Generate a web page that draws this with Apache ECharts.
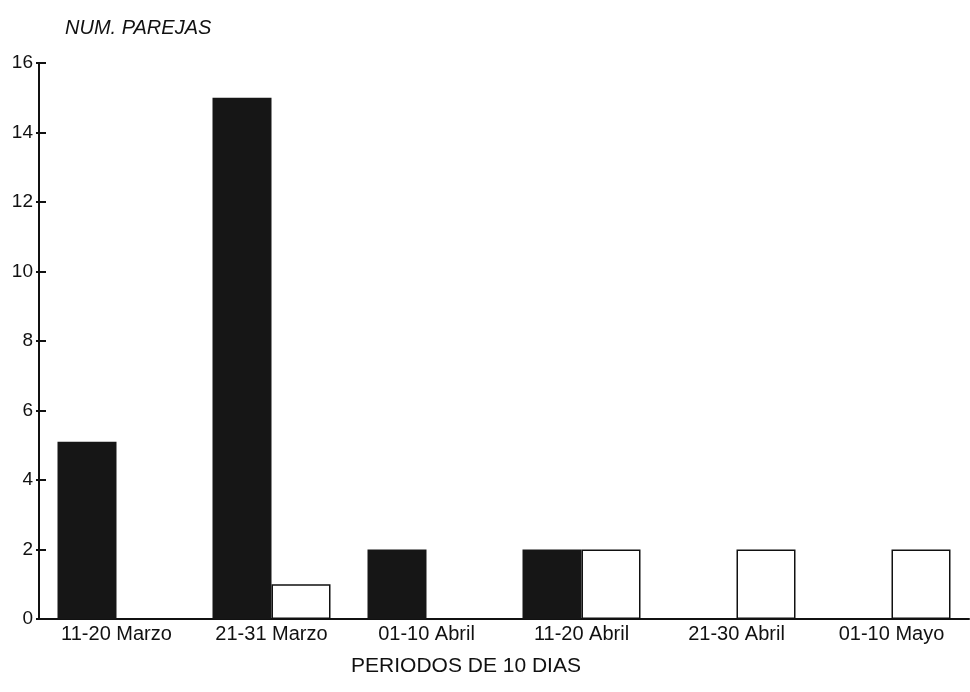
<!DOCTYPE html>
<html>
<head>
<meta charset="utf-8">
<script src="https://cdn.jsdelivr.net/npm/echarts@6/dist/echarts.min.js"></script>
<style>
html,body{margin:0;padding:0;background:#fff;}
#chart{width:970px;height:692px;}
</style>
</head>
<body>
<div id="chart"></div>
<script>
const categories = ['11-20 Marzo', '21-31 Marzo', '01-10 Abril', '11-20 Abril', '21-30 Abril', '01-10 Mayo'];
const blackValues = [5.1, 15, 2, 2, null, null];
const whiteValues = [null, 1, null, 2, 2, 2];
const yTicks = [0, 2, 4, 6, 8, 10, 12, 14, 16];
const yTitle = 'NUM. PAREJAS';
const xTitle = 'PERIODOS DE 10 DIAS';

const FONT = '"Liberation Sans", Arial, Helvetica, sans-serif';
const chart = echarts.init(document.getElementById('chart'), null, {renderer: 'canvas'});

const yMin = yTicks[0], yMax = yTicks[yTicks.length - 1], yStep = yTicks[1] - yTicks[0];

chart.setOption({
  animation: false,
  backgroundColor: '#ffffff',
  grid: {left: 39, top: 63, width: 930, bottom: 73, containLabel: false},
  title: [
    {text: yTitle, left: 60, top: 13, textStyle: {fontFamily: FONT, fontSize: 20, fontStyle: 'italic', fontWeight: 'normal', color: '#111'}},
    {text: xTitle, left: 461, top: 651, textAlign: 'center', textStyle: {fontFamily: FONT, fontSize: 21, fontWeight: 'normal', color: '#111'}}
  ],
  xAxis: {
    type: 'category',
    data: categories,
    axisLine: {show: true, lineStyle: {color: '#111', width: 2}},
    axisTick: {show: false},
    axisLabel: {fontFamily: FONT, fontSize: 20, color: '#111', margin: 5, interval: 0}
  },
  yAxis: [
    {
      type: 'value', min: yMin, max: yMax, interval: yStep,
      axisLine: {show: true, lineStyle: {color: '#111', width: 2}},
      axisTick: {show: true, length: 3, lineStyle: {color: '#111', width: 2}},
      axisLabel: {fontFamily: FONT, fontSize: 19, color: '#111', margin: 6},
      splitLine: {show: false}
    },
    {
      type: 'value', min: yMin, max: yMax, interval: yStep, position: 'left',
      axisLine: {show: false},
      axisTick: {show: true, inside: true, length: 7, lineStyle: {color: '#111', width: 2}},
      axisLabel: {show: false},
      splitLine: {show: false}
    }
  ],
  series: [
    {
      type: 'bar', name: 'negro', data: blackValues, yAxisIndex: 0,
      barWidth: 59, barGap: '0%',
      itemStyle: {color: '#161616'}
    },
    {
      type: 'bar', name: 'blanco', data: whiteValues, yAxisIndex: 0,
      barWidth: 59, barGap: '0%',
      itemStyle: {color: '#ffffff', borderColor: '#111', borderWidth: 1.5}
    }
  ]
});
</script>
</body>
</html>
